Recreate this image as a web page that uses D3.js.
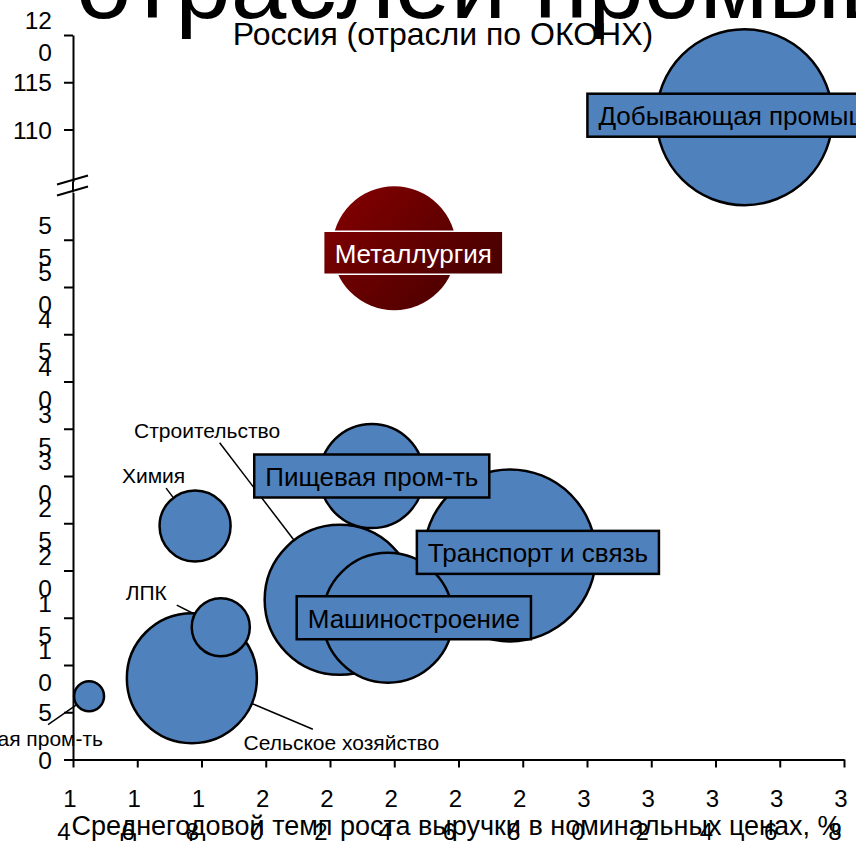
<!DOCTYPE html>
<html><head><meta charset="utf-8">
<script src="https://cdn.jsdelivr.net/npm/d3@7"></script>
<style>
body{margin:0;background:#fff}
svg{display:block}
text{font-family:"Liberation Sans",Arial,sans-serif}
</style>
</head><body>
<svg id="c" width="856" height="843"></svg>
<script>
// ---------- data ----------
const industries = ["Добывающая промышленность","Транспорт и связь","Строительство","Сельское хозяйство","Машиностроение","Металлургия","Пищевая пром-ть","Химия","ЛПК","Легкая пром-ть"];
const growthRate = [34.9, 27.6, 22.3, 17.7, 23.8, 24.0, 23.3, 17.8, 18.6, 14.5];
const yValue     = [111.3, 21.6, 16.9, 8.6, 15.0, 54.1, 30.0, 24.7, 14.0, 6.7];
const bubbleSize = [100, 95.5, 72.6, 54.6, 54.6, 49.6, 34.9, 16.3, 10.9, 2.9];

const xTicks = [14,16,18,20,22,24,26,28,30,32,34,36,38];
const xTickLabels = ["1\n4","1\n6","1\n8","2\n0","2\n2","2\n4","2\n6","2\n8","3\n0","3\n2","3\n4","3\n6","3\n8"];
const yTicksLower = [0,5,10,15,20,25,30,35,40,45,50,55];
const yTickLabelsLower = ["0","5","1\n0","1\n5","2\n0","2\n5","3\n0","3\n5","4\n0","4\n5","5\n0","5\n5"];
const yTicksUpper = [110,115,120];
const yTickLabelsUpper = ["110","115","12\n0"];

const titleText = "отраслей промышленности";
const subtitleText = "Россия (отрасли по ОКОНХ)";
const xTitleText = "Среднегодовой темп роста выручки в номинальных ценах, %";

// ---------- layout (label placement relative to bubble centres) ----------
const boxedLabels = {
  "Добывающая промышленность": {dx:-157, dy:-2, anchor:"start"},
  "Транспорт и связь": {dx:28, dy:-3},
  "Машиностроение": {dx:26, dy:0},
  "Металлургия": {dx:19, dy:4.5, dark:true},
  "Пищевая пром-ть": {dx:0, dy:0}
};
const leaderLabels = {
  "Строительство": {tx:-132.5, ty:-162, lx:-120, ly:-157, anchor:"middle"},
  "Химия": {tx:-41.5, ty:-43, lx:-29, ly:-38, anchor:"middle"},
  "ЛПК": {tx:-74.5, ty:-27, lx:-44, ly:-22, anchor:"middle"},
  "Сельское хозяйство": {tx:149.5, ty:72, lx:121, ly:51, anchor:"middle"},
  "Легкая пром-ть": {tx:14, ty:49.5, lx:-41, ly:28.5, anchor:"end"}
};

const svg = d3.select("#c");
const BLUE = "#4f81bd";
const K = 9.45;
const y0px = 759.5;

const x = d3.scaleLinear().domain([14,38]).range([73,844]);
const yLow = d3.scaleLinear().domain([0,60]).range([y0px, y0px-60*K]);
const yUp = d3.scaleLinear().domain([104.5,120]).range([35+15.5*K, 35]);
const y = v => v >= 80 ? yUp(v) : yLow(v);
const r = d3.scaleSqrt().domain([0,100]).range([0,88]);

// gradient for Металлургия
const defs = svg.append("defs");
const g1 = defs.append("linearGradient").attr("id","metal").attr("x1","0").attr("y1","0").attr("x2","1").attr("y2","1");
g1.append("stop").attr("offset","0%").attr("stop-color","#850000");
g1.append("stop").attr("offset","100%").attr("stop-color","#4a0000");
const g2 = defs.append("linearGradient").attr("id","metalbox").attr("x1","0").attr("y1","0").attr("x2","1").attr("y2","0.3");
g2.append("stop").attr("offset","0%").attr("stop-color","#7d0000");
g2.append("stop").attr("offset","100%").attr("stop-color","#4d0000");

// ---------- axes ----------
const axG = svg.append("g");
const xAxis = axG.append("g").attr("transform",`translate(0,${y0px})`)
  .call(d3.axisBottom(x).tickValues(xTicks).tickSize(8).tickSizeOuter(0).tickFormat(""));
xAxis.select(".domain").attr("stroke","#000").attr("stroke-width",2);
xAxis.selectAll(".tick line").attr("stroke","#000").attr("stroke-width",2);
xTicks.forEach((t,i)=>{
  const lines = xTickLabels[i].split("\n");
  lines.forEach((s,j)=>{
    axG.append("text").attr("x", x(t) + (j===0?-3:-9)).attr("y", 807 + j*33)
      .attr("text-anchor","middle").attr("font-size",24).attr("fill","#000").text(s);
  });
});

function yAxisPart(scale, ticks, labels){
  const g = axG.append("g").attr("transform","translate(73,0)")
    .call(d3.axisLeft(scale).tickValues(ticks).tickSize(9).tickSizeOuter(0).tickFormat(""));
  g.select(".domain").attr("stroke","#000").attr("stroke-width",2);
  g.selectAll(".tick line").attr("stroke","#000").attr("stroke-width",2);
  ticks.forEach((t,i)=>{
    const lines = labels[i].split("\n");
    const ty = scale(t);
    if(lines.length===1){
      axG.append("text").attr("x",52).attr("y",ty+9).attr("text-anchor","end")
        .attr("font-size",24.5).text(lines[0]);
    } else {
      lines.forEach((s,j)=>{
        axG.append("text").attr("x",52).attr("y",ty-6+j*32).attr("text-anchor","end")
          .attr("font-size",24.5).text(s);
      });
    }
  });
}
yAxisPart(yLow, yTicksLower, yTickLabelsLower);
yAxisPart(yUp, yTicksUpper, yTickLabelsUpper);
axG.append("line").attr("x1",73).attr("x2",73).attr("y1",yUp.range()[0]).attr("y2",yLow.range()[1])
  .attr("stroke","#000").attr("stroke-width",2);
const brk = (yUp.range()[0] + yLow.range()[1]) / 2;
[-7, 4].forEach(o=>{
  axG.append("line").attr("x1",57).attr("y1",brk+o+4.5).attr("x2",88).attr("y2",brk+o-4.5)
    .attr("stroke","#000").attr("stroke-width",2);
});

// ---------- bubbles ----------
const data = industries.map((n,i)=>({name:n, gx:growthRate[i], gy:yValue[i], s:bubbleSize[i]}));
const order = data.slice().sort((a,b)=>b.s-a.s);
const bG = svg.append("g");
bG.selectAll("circle").data(order).join("circle")
  .attr("cx",d=>x(d.gx)).attr("cy",d=>y(d.gy)).attr("r",d=>r(d.s))
  .attr("fill",d=>boxedLabels[d.name] && boxedLabels[d.name].dark ? "url(#metal)" : BLUE)
  .attr("stroke",d=>boxedLabels[d.name] && boxedLabels[d.name].dark ? "none" : "#000")
  .attr("stroke-width",2.5);

// leader labels
const lG = svg.append("g");
data.filter(d=>leaderLabels[d.name]).forEach(d=>{
  const L = leaderLabels[d.name];
  const cx = x(d.gx), cy = y(d.gy), rr = r(d.s);
  const len = Math.hypot(L.lx, L.ly);
  lG.append("line").attr("x1",cx+L.lx).attr("y1",cy+L.ly)
    .attr("x2",cx+L.lx*rr/len).attr("y2",cy+L.ly*rr/len)
    .attr("stroke","#000").attr("stroke-width",1.5);
  lG.append("text").attr("x",cx+L.tx).attr("y",cy+L.ty).attr("text-anchor",L.anchor)
    .attr("font-size",21).attr("fill","#000").text(d.name);
});

// boxed labels
const tG = svg.append("g");
data.filter(d=>boxedLabels[d.name]).forEach(d=>{
  const B = boxedLabels[d.name];
  const cx = x(d.gx), cy = y(d.gy);
  const g = tG.append("g");
  const rect = g.append("rect");
  const t = g.append("text").attr("font-size",26).attr("dominant-baseline","central")
    .attr("fill", B.dark ? "#fff" : "#000").text(d.name);
  const w = t.node().getComputedTextLength();
  const padX = 11, h = 43;
  let left;
  if(B.anchor==="start"){ left = cx + B.dx; } else { left = cx + B.dx - (w+2*padX)/2; }
  t.attr("x", left+padX).attr("y", cy + B.dy + 1);
  rect.attr("x",left).attr("y",cy+B.dy-h/2).attr("width",w+2*padX).attr("height",h)
    .attr("fill", B.dark ? "url(#metalbox)" : BLUE)
    .attr("stroke", B.dark ? "#fff" : "#000").attr("stroke-width", B.dark ? 1.5 : 2.5);
});

// ---------- titles ----------
svg.append("text").attr("x",76).attr("y",18).attr("font-size",100).attr("fill","#000").text(titleText);
svg.append("text").attr("x",443).attr("y",45).attr("text-anchor","middle").attr("font-size",32).attr("fill","#000").text(subtitleText);
svg.append("text").attr("x",456.5).attr("y",835).attr("text-anchor","middle").attr("font-size",27).attr("fill","#000").text(xTitleText);
</script>
</body></html>
